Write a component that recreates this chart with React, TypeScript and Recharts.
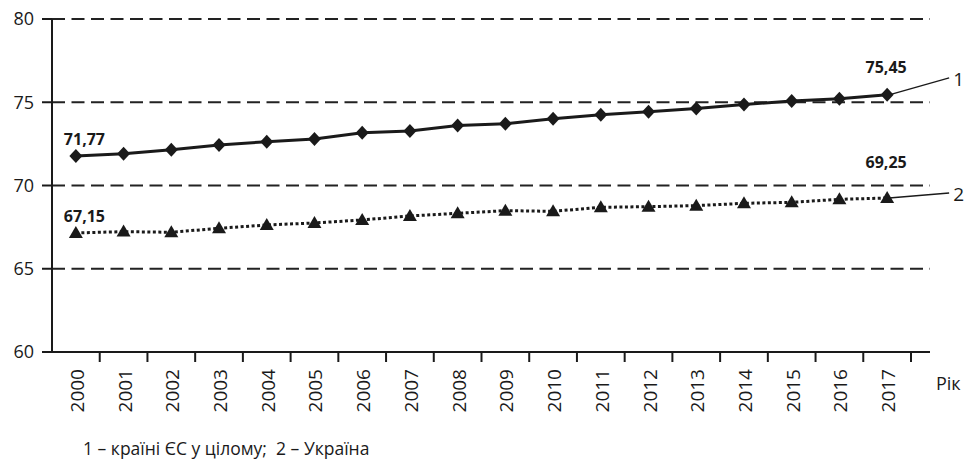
import React from "react";
import { LineChart, Line, XAxis, YAxis, CartesianGrid, LabelList } from "recharts";

const years = [
  "2000", "2001", "2002", "2003", "2004", "2005", "2006", "2007", "2008",
  "2009", "2010", "2011", "2012", "2013", "2014", "2015", "2016", "2017",
];
const euValues = [
  71.77, 71.91, 72.15, 72.43, 72.63, 72.79, 73.17, 73.27, 73.6,
  73.71, 74.01, 74.25, 74.43, 74.63, 74.87, 75.07, 75.21, 75.45,
];
const uaValues = [
  67.15, 67.23, 67.19, 67.43, 67.63, 67.75, 67.93, 68.17, 68.33,
  68.49, 68.45, 68.69, 68.73, 68.79, 68.93, 68.99, 69.17, 69.25,
];
const yTicks = [60, 65, 70, 75, 80];
const caption = "1 – країні ЄС у цілому;  2 – Україна";
const xAxisTitle = "Рік";

const data = years.map((year, i) => ({ year, eu: euValues[i], ua: uaValues[i] }));

const W = 964;
const H = 460;
const MARGIN = { top: 19, right: 34, left: 0, bottom: 0 };
const Y_AXIS_W = 52;
const X_AXIS_H = 108;
const PAD_RIGHT = 19;
const BAND = (W - MARGIN.right - Y_AXIS_W - PAD_RIGHT) / years.length;
const FONT = "'Open Sans', 'Noto Sans', sans-serif";
const INK = "#1a1a1a";

const fmt = (v: number) => v.toFixed(2).replace(".", ",");

function YearTick(props: any) {
  const { x, y, payload } = props;
  const tx = x + BAND / 2;
  return (
    <g>
      <line x1={tx} y1={y} x2={tx} y2={y + 10} stroke={INK} strokeWidth={2} />
      <text
        x={x + 1}
        y={y + 17}
        transform={`rotate(-90, ${x + 1}, ${y + 17})`}
        textAnchor="end"
        dominantBaseline="central"
        fontSize={19}
        fontFamily={FONT}
        fill={INK}
      >
        {payload.value}
      </text>
    </g>
  );
}

function Diamond({ cx, cy }: any) {
  if (cx == null || cy == null) return null;
  return (
    <path
      d={`M${cx},${cy - 7} L${cx + 6.5},${cy} L${cx},${cy + 7} L${cx - 6.5},${cy} Z`}
      fill={INK}
    />
  );
}

function Triangle({ cx, cy }: any) {
  if (cx == null || cy == null) return null;
  return (
    <path d={`M${cx},${cy - 7} L${cx + 7},${cy + 5} L${cx - 7},${cy + 5} Z`} fill={INK} />
  );
}

function makeEndLabels(num: string, lastDy: number, leaderDy: number) {
  return function EndLabel(props: any) {
    const { x, y, index, value } = props;
    if (index === 0) {
      return (
        <text x={x - 12} y={y - 17} textAnchor="start" dominantBaseline="central"
          fontSize={16} fontWeight={700} fontFamily={FONT} fill={INK}>
          {fmt(value)}
        </text>
      );
    }
    if (index === years.length - 1) {
      return (
        <g>
          <text x={x - 1} y={y + lastDy} textAnchor="middle" dominantBaseline="central"
            fontSize={16} fontWeight={700} fontFamily={FONT} fill={INK}>
            {fmt(value)}
          </text>
          <line x1={x + 2} y1={y} x2={x + 62} y2={y + leaderDy} stroke={INK} strokeWidth={1.3} />
          <text x={x + 66} y={y + leaderDy + 1} dominantBaseline="central"
            fontSize={19} fontFamily={FONT} fill={INK}>
            {num}
          </text>
        </g>
      );
    }
    return null;
  };
}

export default function App() {
  return (
    <div style={{ position: "absolute", left: 0, top: 0, width: W, height: H, background: "#fff" }}>
      <style>{`body{margin:0}`}</style>
      <LineChart width={W} height={H} data={data} margin={MARGIN}>
        <CartesianGrid vertical={false} stroke="#222" strokeWidth={1.8} strokeDasharray="13 6.5" />
        <XAxis
          dataKey="year"
          scale="band"
          height={X_AXIS_H}
          padding={{ left: 0, right: PAD_RIGHT }}
          axisLine={{ stroke: INK, strokeWidth: 2 }}
          tickLine={false}
          tickSize={0}
          tickMargin={0}
          interval={0}
          tick={<YearTick />}
        />
        <YAxis
          width={Y_AXIS_W}
          domain={[60, 80]}
          ticks={yTicks}
          allowDataOverflow
          axisLine={{ stroke: INK, strokeWidth: 2 }}
          tickLine={{ stroke: INK, strokeWidth: 2 }}
          tickSize={10}
          tickMargin={8}
          tick={{ fontSize: 18, fill: INK, fontFamily: FONT }}
        />
        <Line
          dataKey="eu"
          type="linear"
          stroke={INK}
          strokeWidth={3}
          dot={<Diamond />}
          activeDot={false}
          isAnimationActive={false}
        >
          <LabelList dataKey="eu" content={makeEndLabels("1", -28, -17)} />
        </Line>
        <Line
          dataKey="ua"
          type="linear"
          stroke={INK}
          strokeWidth={3}
          strokeDasharray="3 2.5"
          dot={<Triangle />}
          activeDot={false}
          isAnimationActive={false}
        >
          <LabelList dataKey="ua" content={makeEndLabels("2", -36, -5)} />
        </Line>
      </LineChart>
      <div style={{ position: "absolute", left: 936, top: 371, fontSize: 18, fontFamily: FONT, color: INK }}>
        {xAxisTitle}
      </div>
      <div style={{ position: "absolute", left: 83, top: 436, fontSize: 17.5, fontFamily: FONT, color: INK, whiteSpace: "pre" }}>
        {caption}
      </div>
    </div>
  );
}
